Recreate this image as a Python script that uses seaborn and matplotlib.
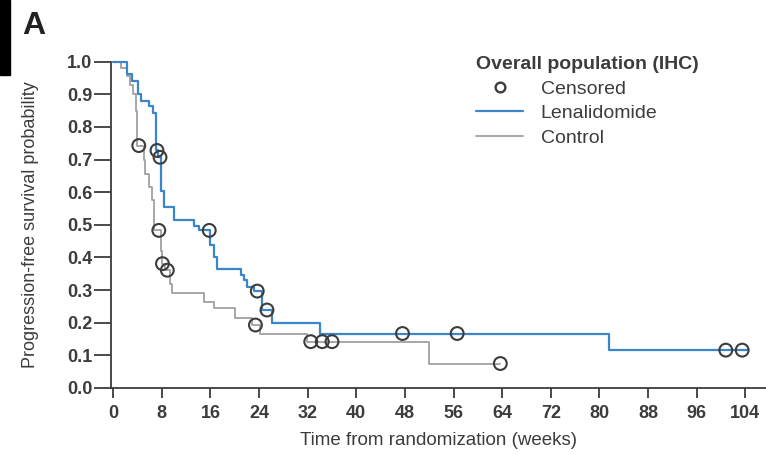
import numpy as np
import pandas as pd
import matplotlib
matplotlib.use('Agg')
import matplotlib.pyplot as plt
from matplotlib.lines import Line2D
from matplotlib.patches import Rectangle
import seaborn as sns

# Kaplan-Meier step points (weeks, survival)
LENA_TIME = [0, 2.2, 3.1, 4.0, 4.5, 5.9, 6.5, 7.1, 7.4, 7.8, 8.3, 10.0, 13.3, 14.1,
             16.0, 16.6, 17.1, 21.0, 21.5, 22.0, 23.1, 24.5, 26.2, 34.1, 81.6, 104.5]
LENA_SURV = [1.0, 0.962, 0.942, 0.901, 0.881, 0.865, 0.842, 0.728, 0.707, 0.605, 0.554,
             0.514, 0.498, 0.483, 0.437, 0.40, 0.366, 0.346, 0.331, 0.31, 0.297, 0.239,
             0.198, 0.167, 0.116, 0.116]
CTRL_TIME = [0, 1.2, 2.2, 2.8, 3.3, 3.7, 3.9, 5.0, 5.3, 5.9, 6.4, 6.7, 7.8, 8.0, 8.5,
             9.4, 9.6, 14.9, 16.6, 20.1, 22.8, 24.2, 31.9, 52.0, 63.7]
CTRL_SURV = [1.0, 0.982, 0.955, 0.93, 0.90, 0.85, 0.743, 0.70, 0.656, 0.616, 0.575,
             0.483, 0.42, 0.381, 0.361, 0.32, 0.29, 0.264, 0.244, 0.213, 0.193, 0.167,
             0.142, 0.075, 0.075]

LENA_CENS_T = [7.2, 7.7, 15.8, 23.7, 25.3, 47.6, 56.6, 100.8, 103.5]
LENA_CENS_S = [0.728, 0.707, 0.483, 0.297, 0.239, 0.167, 0.167, 0.116, 0.116]
CTRL_CENS_T = [4.2, 7.5, 8.1, 8.9, 23.4, 32.5, 34.4, 36.0, 63.7]
CTRL_CENS_S = [0.743, 0.483, 0.381, 0.361, 0.193, 0.142, 0.142, 0.142, 0.075]

X_TICKS = list(range(0, 105, 8))
Y_TICKS = [round(0.1 * i, 1) for i in range(11)]

BLUE = '#3a86c8'
GRAY = '#a0a0a0'
DARK = '#3c3c3c'

sns.set_style('ticks')
plt.rcParams['font.family'] = ['Liberation Sans', 'DejaVu Sans']

fig = plt.figure(figsize=(7.66, 4.55), dpi=100)
ax = fig.add_axes([110.5 / 766, 67 / 455, 656 / 766, 326.3 / 455])

lena = pd.DataFrame({'t': LENA_TIME, 's': LENA_SURV})
ctrl = pd.DataFrame({'t': CTRL_TIME, 's': CTRL_SURV})
sns.lineplot(data=ctrl, x='t', y='s', ax=ax, color=GRAY, lw=1.3,
             drawstyle='steps-post', estimator=None, sort=False, clip_on=False)
sns.lineplot(data=lena, x='t', y='s', ax=ax, color=BLUE, lw=1.6,
             drawstyle='steps-post', estimator=None, sort=False, clip_on=False)

cens = pd.DataFrame({'t': LENA_CENS_T + CTRL_CENS_T, 's': LENA_CENS_S + CTRL_CENS_S})
sns.scatterplot(data=cens, x='t', y='s', ax=ax, marker='o', s=85,
                facecolor='none', edgecolor=DARK, linewidth=1.5, clip_on=False, zorder=5)

ax.set_xlim(-0.45, 107.5)
ax.set_ylim(0, 1.0)
ax.set_xticks(X_TICKS)
ax.set_yticks(Y_TICKS)
ax.set_yticklabels([f'{v:.1f}' for v in Y_TICKS])
ax.tick_params(axis='both', direction='out', width=1.3, color=DARK,
               labelsize=13, labelcolor=DARK)
ax.tick_params(axis='y', length=12, pad=1)
ax.tick_params(axis='x', length=7.5, pad=5)
for lab in ax.get_xticklabels() + ax.get_yticklabels():
    lab.set_fontweight('bold')
sns.despine(ax=ax)
for side in ('left', 'bottom'):
    ax.spines[side].set_color(DARK)
    ax.spines[side].set_linewidth(1.3)

ax.set_xlabel('Time from randomization (weeks)', fontsize=13.5, color=DARK, labelpad=7)
ax.set_ylabel('Progression-free survival probability', fontsize=13, color=DARK, labelpad=20)

handles = [
    Line2D([], [], ls='none', marker='o', markersize=7, markerfacecolor='none',
           markeredgecolor=DARK, markeredgewidth=1.7),
    Line2D([], [], color=BLUE, lw=1.6),
    Line2D([], [], color=GRAY, lw=1.3),
]
leg = ax.legend(handles, ['Censored', 'Lenalidomide', 'Control'],
                title='Overall population (IHC)', loc='upper left',
                bbox_to_anchor=(0.546, 1.04), frameon=False, fontsize=14,
                handlelength=2.4, handletextpad=0.9, labelspacing=0.35,
                alignment='left', borderaxespad=0)
leg.get_title().set_fontweight('bold')
leg.get_title().set_fontsize(14)
leg.get_title().set_color(DARK)
for t in leg.get_texts():
    t.set_color(DARK)

fig.patches.append(Rectangle((0, 1 - 75 / 455), 10 / 766, 75 / 455,
                             transform=fig.transFigure, color='black'))
fig.text(22 / 766, 1 - 34 / 455, 'A', fontsize=23, fontweight='bold', color='#222222')

fig.savefig('out.png', dpi=100)
